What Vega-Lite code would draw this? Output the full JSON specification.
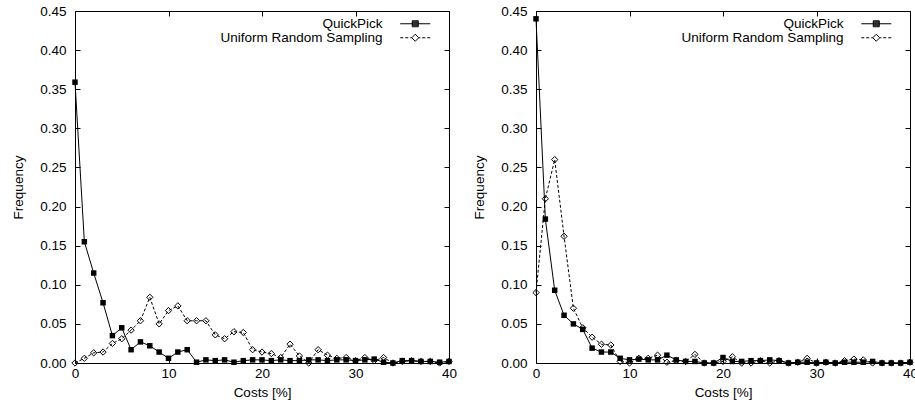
{
  "$schema": "https://vega.github.io/schema/vega-lite/v6.json",
  "padding": {"left": 11, "top": 3, "right": 0, "bottom": 0},
  "spacing": 14,
  "background": "white",
  "datasets": {
    "left": [
      {"cost": 0, "freq": 0.359, "method": "QuickPick"},
      {"cost": 1, "freq": 0.155, "method": "QuickPick"},
      {"cost": 2, "freq": 0.115, "method": "QuickPick"},
      {"cost": 3, "freq": 0.077, "method": "QuickPick"},
      {"cost": 4, "freq": 0.035, "method": "QuickPick"},
      {"cost": 5, "freq": 0.045, "method": "QuickPick"},
      {"cost": 6, "freq": 0.017, "method": "QuickPick"},
      {"cost": 7, "freq": 0.027, "method": "QuickPick"},
      {"cost": 8, "freq": 0.022, "method": "QuickPick"},
      {"cost": 9, "freq": 0.014, "method": "QuickPick"},
      {"cost": 10, "freq": 0.006, "method": "QuickPick"},
      {"cost": 11, "freq": 0.014, "method": "QuickPick"},
      {"cost": 12, "freq": 0.017, "method": "QuickPick"},
      {"cost": 13, "freq": 0.001, "method": "QuickPick"},
      {"cost": 14, "freq": 0.004, "method": "QuickPick"},
      {"cost": 15, "freq": 0.003, "method": "QuickPick"},
      {"cost": 16, "freq": 0.004, "method": "QuickPick"},
      {"cost": 17, "freq": 0.001, "method": "QuickPick"},
      {"cost": 18, "freq": 0.003, "method": "QuickPick"},
      {"cost": 19, "freq": 0.004, "method": "QuickPick"},
      {"cost": 20, "freq": 0.004, "method": "QuickPick"},
      {"cost": 21, "freq": 0.003, "method": "QuickPick"},
      {"cost": 22, "freq": 0.004, "method": "QuickPick"},
      {"cost": 23, "freq": 0.003, "method": "QuickPick"},
      {"cost": 24, "freq": 0.003, "method": "QuickPick"},
      {"cost": 25, "freq": 0.004, "method": "QuickPick"},
      {"cost": 26, "freq": 0.004, "method": "QuickPick"},
      {"cost": 27, "freq": 0.003, "method": "QuickPick"},
      {"cost": 28, "freq": 0.004, "method": "QuickPick"},
      {"cost": 29, "freq": 0.004, "method": "QuickPick"},
      {"cost": 30, "freq": 0.003, "method": "QuickPick"},
      {"cost": 31, "freq": 0.004, "method": "QuickPick"},
      {"cost": 32, "freq": 0.005, "method": "QuickPick"},
      {"cost": 33, "freq": 0.001, "method": "QuickPick"},
      {"cost": 34, "freq": 0.0, "method": "QuickPick"},
      {"cost": 35, "freq": 0.003, "method": "QuickPick"},
      {"cost": 36, "freq": 0.003, "method": "QuickPick"},
      {"cost": 37, "freq": 0.002, "method": "QuickPick"},
      {"cost": 38, "freq": 0.002, "method": "QuickPick"},
      {"cost": 39, "freq": 0.001, "method": "QuickPick"},
      {"cost": 40, "freq": 0.002, "method": "QuickPick"},
      {"cost": 0, "freq": 0.0, "method": "Uniform Random Sampling"},
      {"cost": 1, "freq": 0.006, "method": "Uniform Random Sampling"},
      {"cost": 2, "freq": 0.013, "method": "Uniform Random Sampling"},
      {"cost": 3, "freq": 0.014, "method": "Uniform Random Sampling"},
      {"cost": 4, "freq": 0.025, "method": "Uniform Random Sampling"},
      {"cost": 5, "freq": 0.031, "method": "Uniform Random Sampling"},
      {"cost": 6, "freq": 0.042, "method": "Uniform Random Sampling"},
      {"cost": 7, "freq": 0.054, "method": "Uniform Random Sampling"},
      {"cost": 8, "freq": 0.084, "method": "Uniform Random Sampling"},
      {"cost": 9, "freq": 0.05, "method": "Uniform Random Sampling"},
      {"cost": 10, "freq": 0.067, "method": "Uniform Random Sampling"},
      {"cost": 11, "freq": 0.073, "method": "Uniform Random Sampling"},
      {"cost": 12, "freq": 0.054, "method": "Uniform Random Sampling"},
      {"cost": 13, "freq": 0.054, "method": "Uniform Random Sampling"},
      {"cost": 14, "freq": 0.054, "method": "Uniform Random Sampling"},
      {"cost": 15, "freq": 0.036, "method": "Uniform Random Sampling"},
      {"cost": 16, "freq": 0.031, "method": "Uniform Random Sampling"},
      {"cost": 17, "freq": 0.04, "method": "Uniform Random Sampling"},
      {"cost": 18, "freq": 0.039, "method": "Uniform Random Sampling"},
      {"cost": 19, "freq": 0.017, "method": "Uniform Random Sampling"},
      {"cost": 20, "freq": 0.014, "method": "Uniform Random Sampling"},
      {"cost": 21, "freq": 0.012, "method": "Uniform Random Sampling"},
      {"cost": 22, "freq": 0.007, "method": "Uniform Random Sampling"},
      {"cost": 23, "freq": 0.024, "method": "Uniform Random Sampling"},
      {"cost": 24, "freq": 0.009, "method": "Uniform Random Sampling"},
      {"cost": 25, "freq": 0.0, "method": "Uniform Random Sampling"},
      {"cost": 26, "freq": 0.017, "method": "Uniform Random Sampling"},
      {"cost": 27, "freq": 0.01, "method": "Uniform Random Sampling"},
      {"cost": 28, "freq": 0.006, "method": "Uniform Random Sampling"},
      {"cost": 29, "freq": 0.007, "method": "Uniform Random Sampling"},
      {"cost": 30, "freq": 0.003, "method": "Uniform Random Sampling"},
      {"cost": 31, "freq": 0.007, "method": "Uniform Random Sampling"},
      {"cost": 32, "freq": 0.003, "method": "Uniform Random Sampling"},
      {"cost": 33, "freq": 0.007, "method": "Uniform Random Sampling"},
      {"cost": 34, "freq": 0.0, "method": "Uniform Random Sampling"},
      {"cost": 35, "freq": 0.002, "method": "Uniform Random Sampling"},
      {"cost": 36, "freq": 0.003, "method": "Uniform Random Sampling"},
      {"cost": 37, "freq": 0.002, "method": "Uniform Random Sampling"},
      {"cost": 38, "freq": 0.002, "method": "Uniform Random Sampling"},
      {"cost": 39, "freq": 0.0, "method": "Uniform Random Sampling"},
      {"cost": 40, "freq": 0.002, "method": "Uniform Random Sampling"}
    ],
    "right": [
      {"cost": 0, "freq": 0.44, "method": "QuickPick"},
      {"cost": 1, "freq": 0.184, "method": "QuickPick"},
      {"cost": 2, "freq": 0.093, "method": "QuickPick"},
      {"cost": 3, "freq": 0.061, "method": "QuickPick"},
      {"cost": 4, "freq": 0.05, "method": "QuickPick"},
      {"cost": 5, "freq": 0.043, "method": "QuickPick"},
      {"cost": 6, "freq": 0.019, "method": "QuickPick"},
      {"cost": 7, "freq": 0.014, "method": "QuickPick"},
      {"cost": 8, "freq": 0.014, "method": "QuickPick"},
      {"cost": 9, "freq": 0.006, "method": "QuickPick"},
      {"cost": 10, "freq": 0.004, "method": "QuickPick"},
      {"cost": 11, "freq": 0.005, "method": "QuickPick"},
      {"cost": 12, "freq": 0.004, "method": "QuickPick"},
      {"cost": 13, "freq": 0.004, "method": "QuickPick"},
      {"cost": 14, "freq": 0.01, "method": "QuickPick"},
      {"cost": 15, "freq": 0.004, "method": "QuickPick"},
      {"cost": 16, "freq": 0.002, "method": "QuickPick"},
      {"cost": 17, "freq": 0.002, "method": "QuickPick"},
      {"cost": 18, "freq": 0.0, "method": "QuickPick"},
      {"cost": 19, "freq": 0.0, "method": "QuickPick"},
      {"cost": 20, "freq": 0.007, "method": "QuickPick"},
      {"cost": 21, "freq": 0.002, "method": "QuickPick"},
      {"cost": 22, "freq": 0.002, "method": "QuickPick"},
      {"cost": 23, "freq": 0.003, "method": "QuickPick"},
      {"cost": 24, "freq": 0.003, "method": "QuickPick"},
      {"cost": 25, "freq": 0.004, "method": "QuickPick"},
      {"cost": 26, "freq": 0.003, "method": "QuickPick"},
      {"cost": 27, "freq": 0.0, "method": "QuickPick"},
      {"cost": 28, "freq": 0.001, "method": "QuickPick"},
      {"cost": 29, "freq": 0.001, "method": "QuickPick"},
      {"cost": 30, "freq": 0.0, "method": "QuickPick"},
      {"cost": 31, "freq": 0.001, "method": "QuickPick"},
      {"cost": 32, "freq": 0.0, "method": "QuickPick"},
      {"cost": 33, "freq": 0.001, "method": "QuickPick"},
      {"cost": 34, "freq": 0.001, "method": "QuickPick"},
      {"cost": 35, "freq": 0.001, "method": "QuickPick"},
      {"cost": 36, "freq": 0.002, "method": "QuickPick"},
      {"cost": 37, "freq": 0.0, "method": "QuickPick"},
      {"cost": 38, "freq": 0.0, "method": "QuickPick"},
      {"cost": 39, "freq": 0.0, "method": "QuickPick"},
      {"cost": 40, "freq": 0.001, "method": "QuickPick"},
      {"cost": 0, "freq": 0.09, "method": "Uniform Random Sampling"},
      {"cost": 1, "freq": 0.21, "method": "Uniform Random Sampling"},
      {"cost": 2, "freq": 0.26, "method": "Uniform Random Sampling"},
      {"cost": 3, "freq": 0.162, "method": "Uniform Random Sampling"},
      {"cost": 4, "freq": 0.07, "method": "Uniform Random Sampling"},
      {"cost": 5, "freq": 0.045, "method": "Uniform Random Sampling"},
      {"cost": 6, "freq": 0.033, "method": "Uniform Random Sampling"},
      {"cost": 7, "freq": 0.024, "method": "Uniform Random Sampling"},
      {"cost": 8, "freq": 0.023, "method": "Uniform Random Sampling"},
      {"cost": 9, "freq": 0.002, "method": "Uniform Random Sampling"},
      {"cost": 10, "freq": 0.0, "method": "Uniform Random Sampling"},
      {"cost": 11, "freq": 0.006, "method": "Uniform Random Sampling"},
      {"cost": 12, "freq": 0.006, "method": "Uniform Random Sampling"},
      {"cost": 13, "freq": 0.01, "method": "Uniform Random Sampling"},
      {"cost": 14, "freq": 0.001, "method": "Uniform Random Sampling"},
      {"cost": 15, "freq": 0.003, "method": "Uniform Random Sampling"},
      {"cost": 16, "freq": 0.002, "method": "Uniform Random Sampling"},
      {"cost": 17, "freq": 0.011, "method": "Uniform Random Sampling"},
      {"cost": 18, "freq": 0.0, "method": "Uniform Random Sampling"},
      {"cost": 19, "freq": 0.0, "method": "Uniform Random Sampling"},
      {"cost": 20, "freq": 0.002, "method": "Uniform Random Sampling"},
      {"cost": 21, "freq": 0.008, "method": "Uniform Random Sampling"},
      {"cost": 22, "freq": 0.0, "method": "Uniform Random Sampling"},
      {"cost": 23, "freq": 0.0, "method": "Uniform Random Sampling"},
      {"cost": 24, "freq": 0.003, "method": "Uniform Random Sampling"},
      {"cost": 25, "freq": 0.0, "method": "Uniform Random Sampling"},
      {"cost": 26, "freq": 0.003, "method": "Uniform Random Sampling"},
      {"cost": 27, "freq": 0.0, "method": "Uniform Random Sampling"},
      {"cost": 28, "freq": 0.001, "method": "Uniform Random Sampling"},
      {"cost": 29, "freq": 0.006, "method": "Uniform Random Sampling"},
      {"cost": 30, "freq": 0.0, "method": "Uniform Random Sampling"},
      {"cost": 31, "freq": 0.001, "method": "Uniform Random Sampling"},
      {"cost": 32, "freq": 0.0, "method": "Uniform Random Sampling"},
      {"cost": 33, "freq": 0.003, "method": "Uniform Random Sampling"},
      {"cost": 34, "freq": 0.005, "method": "Uniform Random Sampling"},
      {"cost": 35, "freq": 0.004, "method": "Uniform Random Sampling"},
      {"cost": 36, "freq": 0.0, "method": "Uniform Random Sampling"},
      {"cost": 37, "freq": 0.0, "method": "Uniform Random Sampling"},
      {"cost": 38, "freq": 0.0, "method": "Uniform Random Sampling"},
      {"cost": 39, "freq": 0.0, "method": "Uniform Random Sampling"},
      {"cost": 40, "freq": 0.001, "method": "Uniform Random Sampling"}
    ]
  },
  "hconcat": [
    {
      "width": 374,
      "height": 352,
      "data": {"name": "left"},
      "layer": [
        {
          "transform": [{"filter": "datum.method === 'QuickPick'"}],
          "mark": {"type": "line", "color": "black", "strokeWidth": 1},
          "encoding": {
            "x": {"field": "cost", "type": "quantitative", "scale": {"domain": [0, 40], "nice": false, "zero": false},
                  "axis": {"orient": "bottom", "title": "Costs [%]", "values": [0, 10, 20, 30, 40], "labelPadding": 8, "titlePadding": 6}},
            "y": {"field": "freq", "type": "quantitative", "scale": {"domain": [0, 0.45], "nice": false},
                  "axis": {"orient": "left", "title": "Frequency", "format": ".2f", "values": [0, 0.05, 0.1, 0.15, 0.2, 0.25, 0.3, 0.35, 0.4, 0.45], "labelPadding": 14, "titlePadding": 14}}
          }
        },
        {
          "transform": [{"filter": "datum.method === 'QuickPick'"}],
          "mark": {"type": "point", "shape": "square", "filled": true, "color": "black", "size": 30, "opacity": 1},
          "encoding": {
            "x": {"field": "cost", "type": "quantitative", "axis": {"orient": "top", "labels": false, "title": null, "values": [0, 10, 20, 30, 40]}},
            "y": {"field": "freq", "type": "quantitative", "axis": {"orient": "right", "labels": false, "title": null, "values": [0, 0.05, 0.1, 0.15, 0.2, 0.25, 0.3, 0.35, 0.4, 0.45]}}
          }
        },
        {
          "transform": [{"filter": "datum.method === 'Uniform Random Sampling'"}],
          "mark": {"type": "line", "color": "black", "strokeWidth": 1, "strokeDash": [3, 2]},
          "encoding": {
            "x": {"field": "cost", "type": "quantitative", "axis": null},
            "y": {"field": "freq", "type": "quantitative", "axis": null}
          }
        },
        {
          "transform": [{"filter": "datum.method === 'Uniform Random Sampling'"}],
          "mark": {"type": "point", "shape": "diamond", "filled": false, "color": "black", "strokeWidth": 1, "size": 40, "opacity": 1},
          "encoding": {
            "x": {"field": "cost", "type": "quantitative", "axis": null},
            "y": {"field": "freq", "type": "quantitative", "axis": null}
          }
        },
        {
          "transform": [{"filter": "datum.cost < 0"}],
          "mark": {"type": "point", "filled": false, "color": "black", "strokeWidth": 1, "size": 100},
          "encoding": {
            "x": {"field": "cost", "type": "quantitative", "axis": null},
            "y": {"field": "freq", "type": "quantitative", "axis": null},
            "shape": {
              "field": "method", "type": "nominal",
              "scale": {"domain": ["QuickPick", "Uniform Random Sampling"],
                        "range": ["M-3,0H3M-0.6,-0.6H0.6M-0.6,-0.4H0.6M-0.6,-0.2H0.6M-0.6,0.2H0.6M-0.6,0.4H0.6M-0.6,0.6H0.6M-0.6,-0.6V0.6M0.6,-0.6V0.6",
                                  "M-3,0H-2.4M-2,0H-1.4M-1,0H-0.7M0.7,0H1M1.4,0H2M2.4,0H3M0,-0.7L0.7,0L0,0.7L-0.7,0Z"]},
              "legend": {"title": null, "orient": "none", "legendX": 333.5, "legendY": 6, "labelAlign": "right", "labelOffset": -39.5,
                         "rowPadding": -4, "padding": 0, "symbolSize": 100, "symbolStrokeWidth": 1, "symbolOpacity": 1,
                         "labelFontSize": 13.5, "labelFont": "Liberation Sans", "labelColor": "black", "labelLimit": 300}
            }
          }
        }
      ],
      "resolve": {"axis": {"x": "independent", "y": "independent"}}
    },
    {
      "width": 374,
      "height": 352,
      "data": {"name": "right"},
      "layer": [
        {
          "transform": [{"filter": "datum.method === 'QuickPick'"}],
          "mark": {"type": "line", "color": "black", "strokeWidth": 1},
          "encoding": {
            "x": {"field": "cost", "type": "quantitative", "scale": {"domain": [0, 40], "nice": false, "zero": false},
                  "axis": {"orient": "bottom", "title": "Costs [%]", "values": [0, 10, 20, 30, 40], "labelPadding": 8, "titlePadding": 6}},
            "y": {"field": "freq", "type": "quantitative", "scale": {"domain": [0, 0.45], "nice": false},
                  "axis": {"orient": "left", "title": "Frequency", "format": ".2f", "values": [0, 0.05, 0.1, 0.15, 0.2, 0.25, 0.3, 0.35, 0.4, 0.45], "labelPadding": 14, "titlePadding": 14}}
          }
        },
        {
          "transform": [{"filter": "datum.method === 'QuickPick'"}],
          "mark": {"type": "point", "shape": "square", "filled": true, "color": "black", "size": 30, "opacity": 1},
          "encoding": {
            "x": {"field": "cost", "type": "quantitative", "axis": {"orient": "top", "labels": false, "title": null, "values": [0, 10, 20, 30, 40]}},
            "y": {"field": "freq", "type": "quantitative", "axis": {"orient": "right", "labels": false, "title": null, "values": [0, 0.05, 0.1, 0.15, 0.2, 0.25, 0.3, 0.35, 0.4, 0.45]}}
          }
        },
        {
          "transform": [{"filter": "datum.method === 'Uniform Random Sampling'"}],
          "mark": {"type": "line", "color": "black", "strokeWidth": 1, "strokeDash": [3, 2]},
          "encoding": {
            "x": {"field": "cost", "type": "quantitative", "axis": null},
            "y": {"field": "freq", "type": "quantitative", "axis": null}
          }
        },
        {
          "transform": [{"filter": "datum.method === 'Uniform Random Sampling'"}],
          "mark": {"type": "point", "shape": "diamond", "filled": false, "color": "black", "strokeWidth": 1, "size": 40, "opacity": 1},
          "encoding": {
            "x": {"field": "cost", "type": "quantitative", "axis": null},
            "y": {"field": "freq", "type": "quantitative", "axis": null}
          }
        },
        {
          "transform": [{"filter": "datum.cost < 0"}],
          "mark": {"type": "point", "filled": false, "color": "black", "strokeWidth": 1, "size": 100},
          "encoding": {
            "x": {"field": "cost", "type": "quantitative", "axis": null},
            "y": {"field": "freq", "type": "quantitative", "axis": null},
            "shape": {
              "field": "method", "type": "nominal",
              "scale": {"domain": ["QuickPick", "Uniform Random Sampling"],
                        "range": ["M-3,0H3M-0.6,-0.6H0.6M-0.6,-0.4H0.6M-0.6,-0.2H0.6M-0.6,0.2H0.6M-0.6,0.4H0.6M-0.6,0.6H0.6M-0.6,-0.6V0.6M0.6,-0.6V0.6",
                                  "M-3,0H-2.4M-2,0H-1.4M-1,0H-0.7M0.7,0H1M1.4,0H2M2.4,0H3M0,-0.7L0.7,0L0,0.7L-0.7,0Z"]},
              "legend": {"title": null, "orient": "none", "legendX": 333.5, "legendY": 6, "labelAlign": "right", "labelOffset": -39.5,
                         "rowPadding": -4, "padding": 0, "symbolSize": 100, "symbolStrokeWidth": 1, "symbolOpacity": 1,
                         "labelFontSize": 13.5, "labelFont": "Liberation Sans", "labelColor": "black", "labelLimit": 300}
            }
          }
        }
      ],
      "resolve": {"axis": {"x": "independent", "y": "independent"}}
    }
  ],
  "resolve": {"scale": {"shape": "independent"}, "legend": {"shape": "independent"}},
  "config": {
    "font": "Liberation Sans",
    "view": {"stroke": "black", "strokeWidth": 1},
    "axis": {"grid": false, "domain": false, "ticks": true, "tickColor": "black", "tickSize": -5, "tickWidth": 1,
             "labelColor": "black", "titleColor": "black", "labelFontSize": 13.5, "titleFontSize": 13.5, "titleFontWeight": "normal",
             "labelFont": "Liberation Sans", "titleFont": "Liberation Sans", "labelFlush": false, "labelOverlap": false}
  }
}
